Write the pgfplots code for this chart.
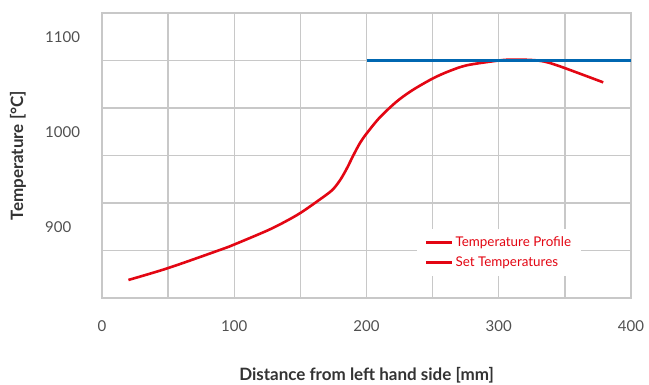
\documentclass[border=0pt]{standalone}
\usepackage{fontspec}
\setmainfont{Lato}
\usepackage{pgfplots}
\pgfplotsset{compat=1.18}
\definecolor{curvered}{HTML}{E30613}
\definecolor{setblue}{HTML}{0067B1}
\definecolor{gridgray}{HTML}{C8C8C8}
\definecolor{ticktext}{HTML}{505050}
\definecolor{labeltext}{HTML}{333333}
\begin{document}
\begin{tikzpicture}
\begin{axis}[
  scale only axis,
  width=529bp, height=285bp,
  xmin=0, xmax=400, ymin=825, ymax=1125,
  xtick={0,50,...,400},
  xticklabels={0,,100,,200,,300,,400},
  ytick={825,875,...,1125},
  yticklabels={},
  extra y ticks={900,1000,1100},
  extra y tick labels={900,1000,1100},
  extra y tick style={grid=none, major tick length=0pt},
  major tick length=0pt,
  grid=major,
  grid style={draw=gridgray, line width=1.4bp},
  axis line style={draw=gridgray, line width=1.6bp},
  tick label style={font=\fontsize{15bp}{17bp}\selectfont, text=ticktext},
  /pgf/number format/assume math mode=true,
  xticklabel style={anchor=north, inner sep=0pt, yshift=-22bp},
  yticklabel style={anchor=west, inner sep=0pt, xshift=-57bp},
  xlabel={Distance from left hand side [mm]},
  ylabel={Temperature [\textdegree C]},
  label style={font=\bfseries\fontsize{17bp}{19bp}\selectfont, text=labeltext},
  xlabel style={at={(axis description cs:0.5,0)}, anchor=center, yshift=-77bp},
  ylabel style={at={(axis description cs:0,0.5)}, anchor=center, yshift=84bp},
  legend style={at={(axis cs:238,898)}, anchor=north west, draw=none, fill=white,
    font=\fontsize{13.4bp}{15bp}\selectfont, text=curvered,
    inner xsep=8bp, inner ysep=6bp, row sep=5bp},
  legend cell align=left,
  legend image code/.code={\draw[#1] (0bp,0bp) -- (26bp,0bp);},
  clip=false,
]
\addplot[curvered, line width=2.6bp, smooth, forget plot] coordinates {
  (20,844) (50,856.5) (90,876) (100,881.3) (125,896) (138,905) (150,914.5)
  (164,928) (174,938.5) (180,949) (185,961) (190,975) (195,988) (200,998)
  (210,1015) (223,1032) (235,1044) (250,1056) (262,1063.5) (276,1070)
  (300,1075) (311,1076) (325,1075.5) (334,1074) (346,1069) (379,1052)
};
\addplot[setblue, line width=2.6bp, forget plot] coordinates {(200,1075) (400,1075)};
\addlegendimage{curvered, line width=2.6bp}
\addlegendentry{Temperature Profile}
\addlegendimage{curvered, line width=2.6bp}
\addlegendentry{Set Temperatures}
\end{axis}
\pgfresetboundingbox
\path (current axis.south west) ++(-102bp,-87bp) rectangle ([shift={(18bp,13bp)}]current axis.north east);
\end{tikzpicture}
\end{document}
